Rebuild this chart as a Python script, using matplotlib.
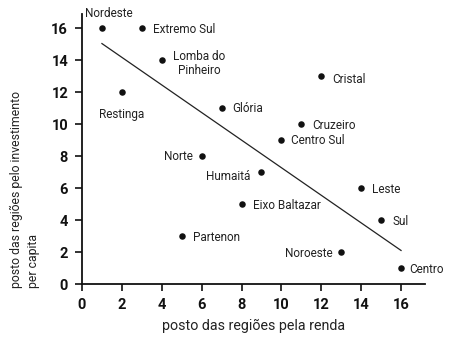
import matplotlib
matplotlib.use("Agg")
import matplotlib.pyplot as plt

plt.rcParams['font.family'] = ['Roboto', 'DejaVu Sans']

regions = ["Nordeste", "Extremo Sul", "Lomba do\nPinheiro", "Restinga", "Cristal",
           "Glória", "Cruzeiro", "Centro Sul", "Norte", "Humaitá", "Leste",
           "Eixo Baltazar", "Sul", "Partenon", "Noroeste", "Centro"]
renda_rank = [1, 3, 4, 2, 12, 7, 11, 10, 6, 9, 14, 8, 15, 5, 13, 16]
invest_rank = [16, 16, 14, 12, 13, 11, 10, 9, 8, 7, 6, 5, 4, 3, 2, 1]
trend_x = [1, 16]
trend_y = [15.05, 2.1]
xticks = [0, 2, 4, 6, 8, 10, 12, 14, 16]
yticks = [0, 2, 4, 6, 8, 10, 12, 14, 16]

# label offsets in points (dx, dy, ha)
offsets = {
    "Nordeste": (5, 11, "center"),
    "Extremo Sul": (8, -1, "left"),
    "Lomba do\nPinheiro": (27, -2, "center"),
    "Restinga": (0, -16, "center"),
    "Cristal": (8, -2, "left"),
    "Glória": (8, 0, "left"),
    "Cruzeiro": (8, -1, "left"),
    "Centro Sul": (7, 0, "left"),
    "Norte": (-6, 0, "right"),
    "Humaitá": (-8, -3, "right"),
    "Leste": (8, -1, "left"),
    "Eixo Baltazar": (8, -1, "left"),
    "Sul": (8, -1, "left"),
    "Partenon": (8, -1, "left"),
    "Noroeste": (-6, -1, "right"),
    "Centro": (6, -1, "left"),
}

fig = plt.figure(figsize=(4.49, 3.39), dpi=100)
ax = fig.add_axes([0.1826, 0.1622, 0.9465 - 0.1826, 0.9587 - 0.1622])

ax.plot(trend_x, trend_y, color="#222222", lw=0.9, zorder=2)
ax.scatter(renda_rank, invest_rank, s=22, color="#111111", zorder=3, linewidths=0)

for name, x, y in zip(regions, renda_rank, invest_rank):
    dx, dy, ha = offsets[name]
    ax.annotate(name, (x, y), xytext=(dx, dy), textcoords="offset points",
                ha=ha, va="center", fontsize=8.5, color="#222222",
                multialignment="center", linespacing=1.1)

ax.set_xlim(0, 17.2)
ax.set_ylim(0, 16.9)
ax.set_xticks(xticks)
ax.set_yticks(yticks)
ax.set_xticklabels([str(t) for t in xticks], fontweight="bold", fontsize=10.5)
ax.set_yticklabels([str(t) for t in yticks], fontweight="bold", fontsize=10.5)
for s in ["top", "right"]:
    ax.spines[s].set_visible(False)
for s in ["left", "bottom"]:
    ax.spines[s].set_linewidth(1.3)
    ax.spines[s].set_color("#111111")
ax.tick_params(axis="both", direction="out", length=5, width=1.2, color="#111111",
               labelcolor="#111111", pad=5)

ax.set_xlabel("posto das regiões pela renda", fontsize=10.3, color="#222222", labelpad=5)
fig.text(25 / 449, 1 - 288 / 339, "posto das regiões pelo investimento\nper capita",
         rotation=90, fontsize=8.8, color="#222222", ha="center", va="bottom",
         multialignment="left", linespacing=1.45)

fig.savefig("out.png", dpi=100)
